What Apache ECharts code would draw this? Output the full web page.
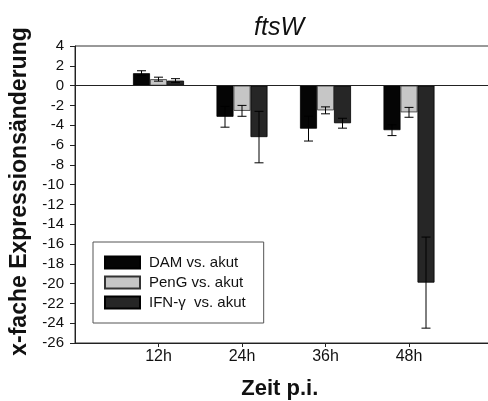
<!DOCTYPE html>
<html>
<head>
<meta charset="utf-8">
<script src="https://cdn.jsdelivr.net/npm/echarts@6/dist/echarts.min.js"></script>
<style>
  html, body { margin: 0; padding: 0; background: #fff; }
  #chart { width: 488px; height: 401px; }
</style>
</head>
<body>
<div id="chart"></div>
<script>
// Time points after infection
const times = ['12h', '24h', '36h', '48h'];
// Padded category list so the first group sits one step right of the y axis
const categories = [''].concat(times, ['']);

// Mean fold change and error per comparison
const damMean  = [1.25, -3.15, -4.35, -4.5];
const damErr   = [0.25, 1.05, 1.25, 0.55];
const pengMean = [0.65, -2.55, -2.5, -2.7];
const pengErr  = [0.2, 0.55, 0.35, 0.5];
const ifnMean  = [0.5, -5.2, -3.8, -19.9];
const ifnErr   = [0.2, 2.6, 0.5, 4.6];

const yTicks = { min: -26, max: 4, step: 2 };

const FONT = '"Liberation Sans", Arial, sans-serif';
const BAR_W = 17;

function padded(arr) { return [null].concat(arr, [null]); }
function errData(mean, err) {
  return mean.map((m, i) => [i + 1, m - err[i], m + err[i]]);
}

function errorSeries(name, mean, err, offset) {
  return {
    type: 'custom',
    name: name + ' err',
    z: 5,
    silent: true,
    data: errData(mean, err),
    encode: { x: 0, y: [1, 2] },
    renderItem: function (params, api) {
      const lo = api.coord([api.value(0), api.value(1)]);
      const hi = api.coord([api.value(0), api.value(2)]);
      const x = lo[0] + offset;
      const cap = 4.5;
      const st = { stroke: '#000', lineWidth: 1 };
      return {
        type: 'group',
        children: [
          { type: 'line', shape: { x1: x, y1: lo[1], x2: x, y2: hi[1] }, style: st },
          { type: 'line', shape: { x1: x - cap, y1: lo[1], x2: x + cap, y2: lo[1] }, style: st },
          { type: 'line', shape: { x1: x - cap, y1: hi[1], x2: x + cap, y2: hi[1] }, style: st }
        ]
      };
    }
  };
}

const chart = echarts.init(document.getElementById('chart'), null, { renderer: 'canvas' });

chart.setOption({
  animation: false,
  backgroundColor: '#fff',
  textStyle: { fontFamily: FONT },
  title: {
    text: 'ftsW',
    left: 249,
    top: 11,
    textStyle: { fontFamily: FONT, fontSize: 25, fontStyle: 'italic', fontWeight: 'normal', color: '#111' }
  },
  grid: {
    left: 75, top: 46, width: 417.5, height: 297,
    outerBoundsMode: 'none',
    containLabel: false,
    show: true, borderColor: '#333', borderWidth: 1, backgroundColor: 'transparent'
  },
  legend: {
    orient: 'vertical',
    left: 93, top: 242,
    width: 168,
    padding: [13, 18, 13, 11],
    borderColor: '#555', borderWidth: 1,
    icon: 'rect',
    itemWidth: 35, itemHeight: 12, itemGap: 5,
    data: ['DAM vs. akut', 'PenG vs. akut', 'IFN-γ  vs. akut'],
    textStyle: { fontFamily: FONT, fontSize: 15, color: '#111', padding: [0, 0, 0, 4] }
  },
  xAxis: {
    type: 'category',
    data: categories,
    boundaryGap: false,
    axisLine: { onZero: false, lineStyle: { color: '#222', width: 1 } },
    axisTick: { show: true, length: 4, interval: (i, v) => v !== '', lineStyle: { color: '#222' } },
    axisLabel: { fontFamily: FONT, fontSize: 16, color: '#111', margin: 6, interval: 0 },
    splitLine: { show: false },
    name: 'Zeit p.i.',
    nameLocation: 'middle',
    nameGap: 35,
    nameTextStyle: { fontFamily: FONT, fontSize: 22, fontWeight: 'bold', color: '#111', padding: [0, 8, 0, 0] }
  },
  yAxis: {
    type: 'value',
    min: yTicks.min, max: yTicks.max, interval: yTicks.step,
    axisLine: { show: true, lineStyle: { color: '#222', width: 1 } },
    axisTick: { show: true, length: 5, lineStyle: { color: '#222' } },
    axisLabel: { fontFamily: FONT, fontSize: 15, color: '#111', margin: 11 },
    splitLine: { show: false },
    name: 'x-fache Expressionsänderung',
    nameLocation: 'middle',
    nameGap: 44,
    nameTextStyle: { fontFamily: FONT, fontSize: 23, fontWeight: 'bold', color: '#111', padding: [0, 0, 0, 6] }
  },
  series: [
    {
      name: 'DAM vs. akut', type: 'bar', barWidth: BAR_W, barGap: '0%',
      data: padded(damMean),
      itemStyle: { color: '#050505', borderColor: '#000', borderWidth: 0.8 },
      markLine: {
        silent: true, symbol: 'none', label: { show: false },
        lineStyle: { color: '#222', width: 1, type: 'solid' },
        data: [{ yAxis: 0 }]
      }
    },
    {
      name: 'PenG vs. akut', type: 'bar', barWidth: BAR_W, barGap: '0%',
      data: padded(pengMean),
      itemStyle: { color: '#c6c6c6', borderColor: '#333', borderWidth: 0.8 }
    },
    {
      name: 'IFN-γ  vs. akut', type: 'bar', barWidth: BAR_W, barGap: '0%',
      data: padded(ifnMean),
      itemStyle: { color: '#262626', borderColor: '#000', borderWidth: 0.8 }
    },
    errorSeries('DAM', damMean, damErr, -BAR_W),
    errorSeries('PenG', pengMean, pengErr, 0),
    errorSeries('IFN', ifnMean, ifnErr, BAR_W)
  ]
});
</script>
</body>
</html>
